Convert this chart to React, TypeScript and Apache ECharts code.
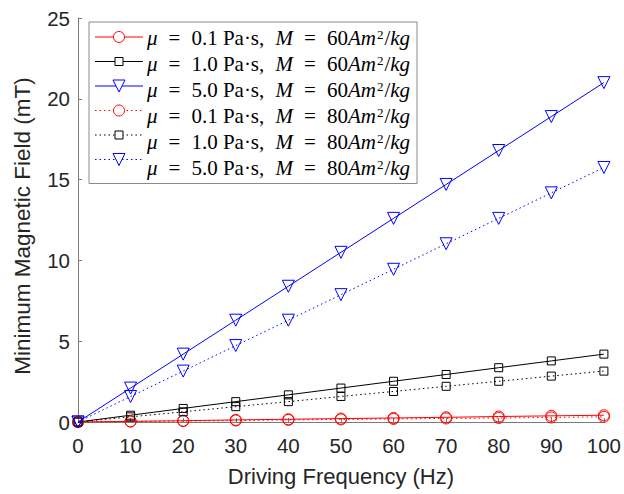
import React, { useEffect, useRef } from "react";
import * as echarts from "echarts";

// Driving frequency (Hz)
const freq = [0, 10, 20, 30, 40, 50, 60, 70, 80, 90, 100];

// Minimum magnetic field (mT), M = 60 Am^2/kg
const mu01M60 = [0, 0.04, 0.08, 0.13, 0.17, 0.21, 0.25, 0.29, 0.34, 0.38, 0.42];
const mu10M60 = [0, 0.42, 0.84, 1.26, 1.68, 2.1, 2.52, 2.94, 3.36, 3.78, 4.2];
const mu50M60 = [0, 2.1, 4.2, 6.3, 8.4, 10.5, 12.6, 14.7, 16.8, 18.9, 21.0];

// Minimum magnetic field (mT), M = 80 Am^2/kg
const mu01M80 = [0, 0.03, 0.06, 0.09, 0.13, 0.16, 0.19, 0.22, 0.25, 0.28, 0.32];
const mu10M80 = [0, 0.32, 0.63, 0.95, 1.26, 1.58, 1.89, 2.21, 2.52, 2.84, 3.15];
const mu50M80 = [0, 1.58, 3.15, 4.73, 6.3, 7.88, 9.45, 11.03, 12.6, 14.18, 15.75];

const seriesNames = [
  "μ = 0.1 Pa·s, M = 60Am²/kg",
  "μ = 1.0 Pa·s, M = 60Am²/kg",
  "μ = 5.0 Pa·s, M = 60Am²/kg",
  "μ = 0.1 Pa·s, M = 80Am²/kg",
  "μ = 1.0 Pa·s, M = 80Am²/kg",
  "μ = 5.0 Pa·s, M = 80Am²/kg",
];

const xTicks = { min: 0, max: 100, interval: 10 };
const yTicks = { min: 0, max: 25, interval: 5 };

const RED = "#ff0000";
const BLACK = "#000000";
const BLUE = "#0000ff";
const DOTTED = [1.5, 3];

const SERIF = "Liberation Serif";
const SANS = "Liberation Sans";
const LEGEND_FS = 21;
const LEGEND_LH = 20;

// Legend box geometry (the key samples are drawn into the reserved icon slots)
const LEG_LEFT = 89;
const LEG_TOP = 22;
const LEG_PAD = [5, 7, 5, 5];
const LEG_ICON_W = 48;
const LEG_GAP = 4.5;

// Math-style legend label: italic symbols, widened spacing around "=".
function legendLabel(name: string): string {
  const m = name.match(/^μ = ([\d.]+) Pa·s, M = (\d+)Am²\/kg$/);
  if (!m) return name;
  return `{it|μ}{eq|=}${m[1]} Pa·s,{sp| }{it|M}{eq|=}${m[2]}{it|Am}{sup|2}/{it|kg}`;
}

type Spec = {
  name: string;
  values: number[];
  color: string;
  dotted: boolean;
  symbol: "circle" | "rect" | "triangle";
  size: number;
  rotate: number;
};

const specs: Spec[] = [
  { name: seriesNames[0], values: mu01M60, color: RED, dotted: false, symbol: "circle", size: 11, rotate: 0 },
  { name: seriesNames[1], values: mu10M60, color: BLACK, dotted: false, symbol: "rect", size: 8, rotate: 0 },
  { name: seriesNames[2], values: mu50M60, color: BLUE, dotted: false, symbol: "triangle", size: 12, rotate: 180 },
  { name: seriesNames[3], values: mu01M80, color: RED, dotted: true, symbol: "circle", size: 11, rotate: 0 },
  { name: seriesNames[4], values: mu10M80, color: BLACK, dotted: true, symbol: "rect", size: 8, rotate: 0 },
  { name: seriesNames[5], values: mu50M80, color: BLUE, dotted: true, symbol: "triangle", size: 12, rotate: 180 },
];

function makeSeries(s: Spec) {
  return {
    name: s.name,
    type: "line",
    data: freq.map((f, i) => [f, s.values[i]]),
    symbol: s.symbol,
    symbolSize: s.size,
    symbolRotate: s.rotate,
    showAllSymbol: true,
    clip: false,
    lineStyle: { color: s.color, width: 1, type: s.dotted ? DOTTED : "solid" },
    itemStyle: { color: "rgba(255,255,255,0)", borderColor: s.color, borderWidth: 1 },
    emphasis: { disabled: true },
  };
}

// Line + hollow marker sample for one legend row.
function legendSample(s: Spec, i: number) {
  const cy = LEG_TOP + LEG_PAD[0] + LEGEND_LH / 2 + i * (LEGEND_LH + LEG_GAP);
  const x0 = LEG_LEFT + LEG_PAD[3] + 1;
  const x1 = x0 + LEG_ICON_W;
  const cx = (x0 + x1) / 2;
  const markerStyle = { fill: "#ffffff", stroke: s.color, lineWidth: 1 };
  const lineStyle: any = { stroke: s.color, lineWidth: 1 };
  if (s.dotted) lineStyle.lineDash = DOTTED;
  const h = s.size / 2;
  let marker: any;
  if (s.symbol === "circle") {
    marker = { type: "circle", shape: { cx, cy, r: h }, style: markerStyle };
  } else if (s.symbol === "rect") {
    marker = { type: "rect", shape: { x: cx - h, y: cy - h, width: s.size, height: s.size }, style: markerStyle };
  } else {
    marker = {
      type: "polygon",
      shape: { points: [[cx - h, cy - h], [cx + h, cy - h], [cx, cy + h]] },
      style: markerStyle,
    };
  }
  return [
    // white strip first so nothing from the legend's own icon slot shows through
    { type: "rect", z: 99, silent: true, shape: { x: x0 - 1, y: cy - 7, width: LEG_ICON_W + 2, height: 14 }, style: { fill: "#ffffff" } },
    { type: "line", z: 100, silent: true, shape: { x1: x0, y1: cy, x2: x1, y2: cy }, style: lineStyle },
    { ...marker, z: 101, silent: true },
  ];
}

export default function App() {
  const ref = useRef<HTMLDivElement>(null);

  useEffect(() => {
    if (!ref.current) return;
    const chart = echarts.init(ref.current, undefined, { renderer: "svg" });
    const axisColor = "#7a7a7a";
    const textColor = "#262626";
    const base = { fontFamily: SERIF, fontSize: LEGEND_FS, lineHeight: LEGEND_LH, color: "#000" };
    chart.setOption({
      animation: false,
      backgroundColor: "#ffffff",
      grid: { left: 78, right: 17, top: 18, bottom: 72 },
      legend: {
        orient: "vertical",
        left: LEG_LEFT,
        top: LEG_TOP,
        itemWidth: LEG_ICON_W,
        itemHeight: 12,
        itemGap: LEG_GAP,
        padding: LEG_PAD,
        borderColor: "#8a8a8a",
        borderWidth: 1,
        backgroundColor: "#ffffff",
        selectedMode: false,
        lineStyle: { width: 0, opacity: 0 },
        data: seriesNames.map((name) => ({ name, icon: "none" })),
        formatter: legendLabel,
        textStyle: {
          ...base,
          rich: {
            it: { ...base, fontStyle: "italic" },
            eq: { ...base, padding: [0, 11, 0, 11] },
            sp: { ...base, padding: [0, 6, 0, 0] },
            sup: { fontFamily: SERIF, fontSize: 13, lineHeight: LEGEND_LH, color: "#000", verticalAlign: "top", padding: [0, 1, 8, 1] },
          },
        },
      },
      graphic: specs.flatMap(legendSample),
      xAxis: {
        type: "value",
        ...xTicks,
        name: "Driving Frequency (Hz)",
        nameLocation: "middle",
        nameGap: 43,
        nameTextStyle: { fontFamily: SANS, fontSize: 22, color: textColor },
        axisLine: { show: true, lineStyle: { color: axisColor, width: 1 } },
        axisTick: { show: true, inside: true, length: 4, lineStyle: { color: axisColor } },
        axisLabel: { fontFamily: SANS, fontSize: 20.5, color: textColor, margin: 13 },
        splitLine: { show: false },
      },
      yAxis: {
        type: "value",
        ...yTicks,
        name: "Minimum Magnetic Field (mT)",
        nameLocation: "middle",
        nameGap: 44,
        nameTextStyle: { fontFamily: SANS, fontSize: 22.5, color: textColor, padding: [0, 12, 0, 0] },
        axisLine: { show: true, lineStyle: { color: axisColor, width: 1 } },
        axisTick: { show: true, inside: true, length: 4, lineStyle: { color: axisColor } },
        axisLabel: { fontFamily: SANS, fontSize: 20.5, color: textColor, margin: 8 },
        splitLine: { show: false },
      },
      series: specs.map(makeSeries),
    });
    return () => chart.dispose();
  }, []);

  return (
    <div
      ref={ref}
      style={{ position: "fixed", left: 0, top: 0, width: 624, height: 494 }}
    />
  );
}
